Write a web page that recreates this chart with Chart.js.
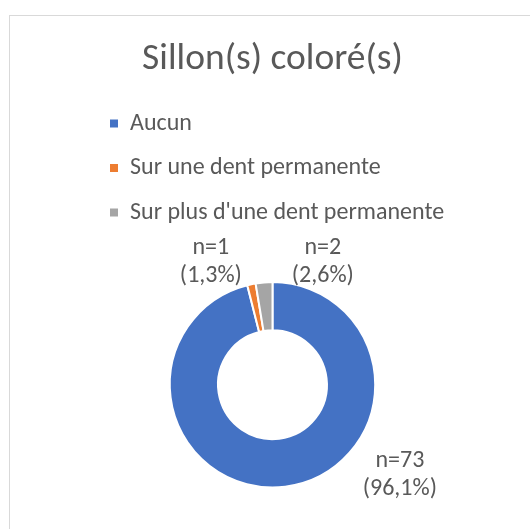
<!DOCTYPE html>
<html>
<head>
<meta charset="utf-8">
<script src="https://cdn.jsdelivr.net/npm/chart.js@4.4.1/dist/chart.umd.min.js"></script>
<style>
  html, body { margin: 0; padding: 0; background: #fff; }
  #wrap { width: 530px; height: 529px; }
</style>
</head>
<body>
<div id="wrap"><canvas id="js--chart"></canvas></div>
<script>
const labels = ['Aucun', 'Sur une dent permanente', "Sur plus d'une dent permanente"];
const counts = [73, 1, 2];
const colors = ['#4472C4', '#ED7D31', '#A5A5A5'];

const textColor = '#595959';
const fontFamily = 'Carlito, Calibri, Lato, sans-serif';

// where each n= label sits, relative to the donut centre, in outer radii
const labelPlacement = [
  { dx: 1.24, dy: 0.875 },
  { dx: -0.60, dy: -1.195 },
  { dx: 0.49, dy: -1.195 }
];

const total = counts.reduce((a, b) => a + b, 0);

// light grey chart border like the excel one
const frame = {
  id: 'frame',
  beforeDraw(chart) {
    const ctx = chart.ctx;
    ctx.save();
    ctx.fillStyle = '#fff';
    ctx.fillRect(0, 0, chart.width, chart.height);
    ctx.strokeStyle = '#d9d9d9';
    ctx.lineWidth = 1;
    ctx.strokeRect(9.5, 15.5, chart.width, chart.height);
    ctx.restore();
  }
};

// a bit more room under the legend
const legendSpacer = {
  id: 'legendSpacer',
  beforeInit(chart) {
    const originalFit = chart.legend.fit;
    chart.legend.fit = function() {
      originalFit.bind(chart.legend)();
      this.height += 6;
    };
  }
};

const sliceLabels = {
  id: 'sliceLabels',
  afterDatasetsDraw(chart) {
    const ctx = chart.ctx;
    const arcs = chart.getDatasetMeta(0).data;
    ctx.save();
    ctx.fillStyle = textColor;
    ctx.font = '24px ' + fontFamily;
    ctx.textAlign = 'center';
    ctx.textBaseline = 'middle';
    arcs.forEach((arc, i) => {
      const r = arc.outerRadius;
      const x = arc.x + labelPlacement[i].dx * r;
      const y = arc.y + labelPlacement[i].dy * r;
      const pct = (counts[i] / total * 100).toFixed(1).replace('.', ',');
      ctx.fillText('n=' + counts[i], x, y - 14);
      ctx.fillText('(' + pct + '%)', x, y + 14);
    });
    ctx.restore();
  }
};

new Chart(document.getElementById('js--chart'), {
  type: 'doughnut',
  data: {
    labels: labels,
    datasets: [{
      data: counts,
      backgroundColor: colors,
      borderColor: '#fff',
      borderWidth: 2
    }]
  },
  options: {
    responsive: true,
    maintainAspectRatio: false,
    animation: false,
    cutout: '53%',
    radius: '71.7%',
    layout: { padding: { top: 20, left: 89.5, right: 74.5, bottom: 0 } },
    plugins: {
      title: {
        display: true,
        text: 'Sillon(s) coloré(s)',
        color: textColor,
        font: { family: fontFamily, size: 37.5, weight: 'normal' },
        padding: { top: 17, bottom: 9 }
      },
      legend: {
        position: 'top',
        align: 'start',
        labels: {
          boxWidth: 8,
          boxHeight: 8,
          padding: 20.5,
          color: textColor,
          font: { family: fontFamily, size: 24 },
          generateLabels(chart) {
            return Chart.overrides.doughnut.plugins.legend.labels.generateLabels(chart)
              .map(item => ({ ...item, lineWidth: 0 }));
          }
        }
      },
      tooltip: { enabled: false }
    }
  },
  plugins: [frame, legendSpacer, sliceLabels]
});
</script>
</body>
</html>
